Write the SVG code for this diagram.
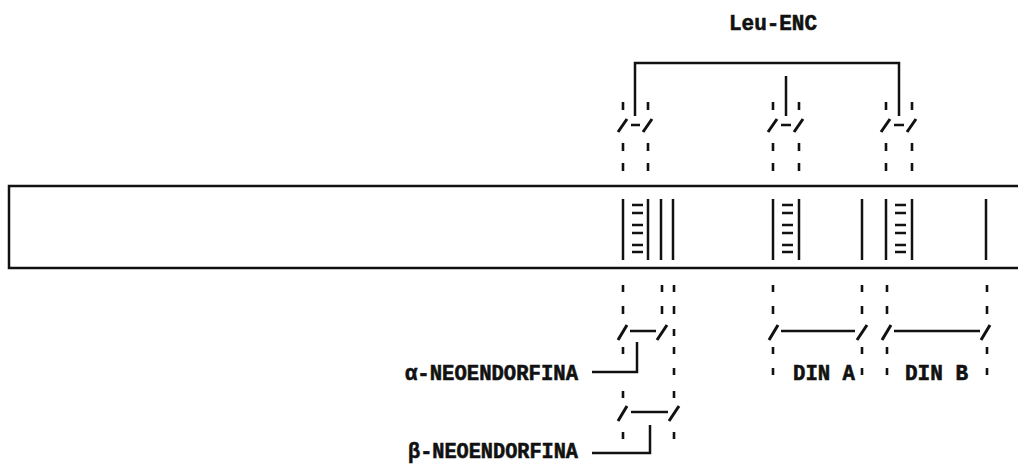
<svg xmlns="http://www.w3.org/2000/svg" width="1018" height="465" viewBox="0 0 1018 465">
<style>
.ln{fill:none;stroke:#111;stroke-width:2.5;stroke-linecap:butt}
.sl{fill:none;stroke:#111;stroke-width:3;stroke-linecap:butt}
.ds{fill:none;stroke:#111;stroke-width:2.6}
.hs{fill:none;stroke:#111;stroke-width:2.7}
.lb{font-family:"Liberation Mono","DejaVu Sans Mono",monospace;font-weight:bold;font-size:22px;fill:#111;stroke:#111;stroke-width:0.6}
</style>
<rect width="1018" height="465" fill="#fff"/>
<g id="gene">
<path class="ln" d="M1022,186 H9 V268 H1022"/>
<path class="ln" d="M623,199 V260 M648,199 V260 M661,199 V260 M673,199 V260 M773,199 V260 M799,199 V260 M862,199 V260 M886,199 V260 M912,199 V260 M986,199 V260"/>
<path class="hs" d="M632,205 h11 M632,213 h11 M632,225 h11 M632,233 h11 M632,245 h11 M632,252 h11
M782,205 h11 M782,213 h11 M782,225 h11 M782,233 h11 M782,245 h11 M782,252 h11
M895,205 h11 M895,213 h11 M895,225 h11 M895,233 h11 M895,245 h11 M895,252 h11"/>
</g>
<g id="leu-enc"><text class="lb" x="729" y="30" textLength="88" lengthAdjust="spacingAndGlyphs">Leu-ENC</text></g>
<g id="alpha-neo"><text class="lb" x="405" y="380" textLength="173" lengthAdjust="spacingAndGlyphs">α-NEOENDORFINA</text></g>
<g id="beta-neo"><text class="lb" x="408" y="458" textLength="170" lengthAdjust="spacingAndGlyphs">β-NEOENDORFINA</text></g>
<g id="din-a"><text class="lb" x="793" y="380" textLength="62" lengthAdjust="spacingAndGlyphs">DIN A</text></g>
<g id="din-b"><text class="lb" x="905" y="380" textLength="63" lengthAdjust="spacingAndGlyphs">DIN B</text></g>
<g id="connectors">
<path class="ln" d="M635,116 V63 H899 V116 M786,76 V116"/>
<path class="ds" d="M623,102 v8 M623,143 v8 M623,163 v8 M648,102 v8 M648,143 v8 M648,163 v8
M773,102 v8 M773,143 v8 M773,163 v8 M799,102 v8 M799,143 v8 M799,163 v8
M886,102 v8 M886,143 v8 M886,163 v8 M912,102 v8 M912,143 v8 M912,163 v8"/>
<path class="sl" d="M618,132 L627,119 M643,132 L652,119 M768,132 L777,119 M794,132 L803,119 M881,132 L890,119 M907,132 L916,119"/>
<path class="ln" d="M631,125 H640 M781,125 H791 M894,125 H904"/>
<path class="ds" d="M623,285 v7 M623,306 v8 M623,347 v7 M623,391 v7 M623,432 v7
M662,285 v7 M662,306 v8
M674,285 v7 M674,306 v8 M674,329 v7 M674,347 v7 M674,368 v7 M674,391 v7 M674,432 v7
M773,285 v7 M773,306 v8 M773,347 v7 M773,368 v7
M862,285 v7 M862,306 v8 M862,347 v7 M862,368 v7
M887,285 v7 M887,306 v8 M887,347 v7 M887,368 v7
M987,285 v7 M987,306 v8 M987,347 v7 M987,368 v7"/>
<path class="sl" d="M618,340 L627,325 M657,340 L667,325 M618,421 L627,406 M669,421 L679,406
M769,340 L778,325 M857,340 L867,325 M882,340 L891,325 M981,340 L990,325"/>
<path class="ln" d="M630,331 H656 M631,412 H668 M781,331 H855 M894,331 H980"/>
<path class="ln" d="M637,342 V372 H592 M650,425 V453 H592"/>
</g>
</svg>
